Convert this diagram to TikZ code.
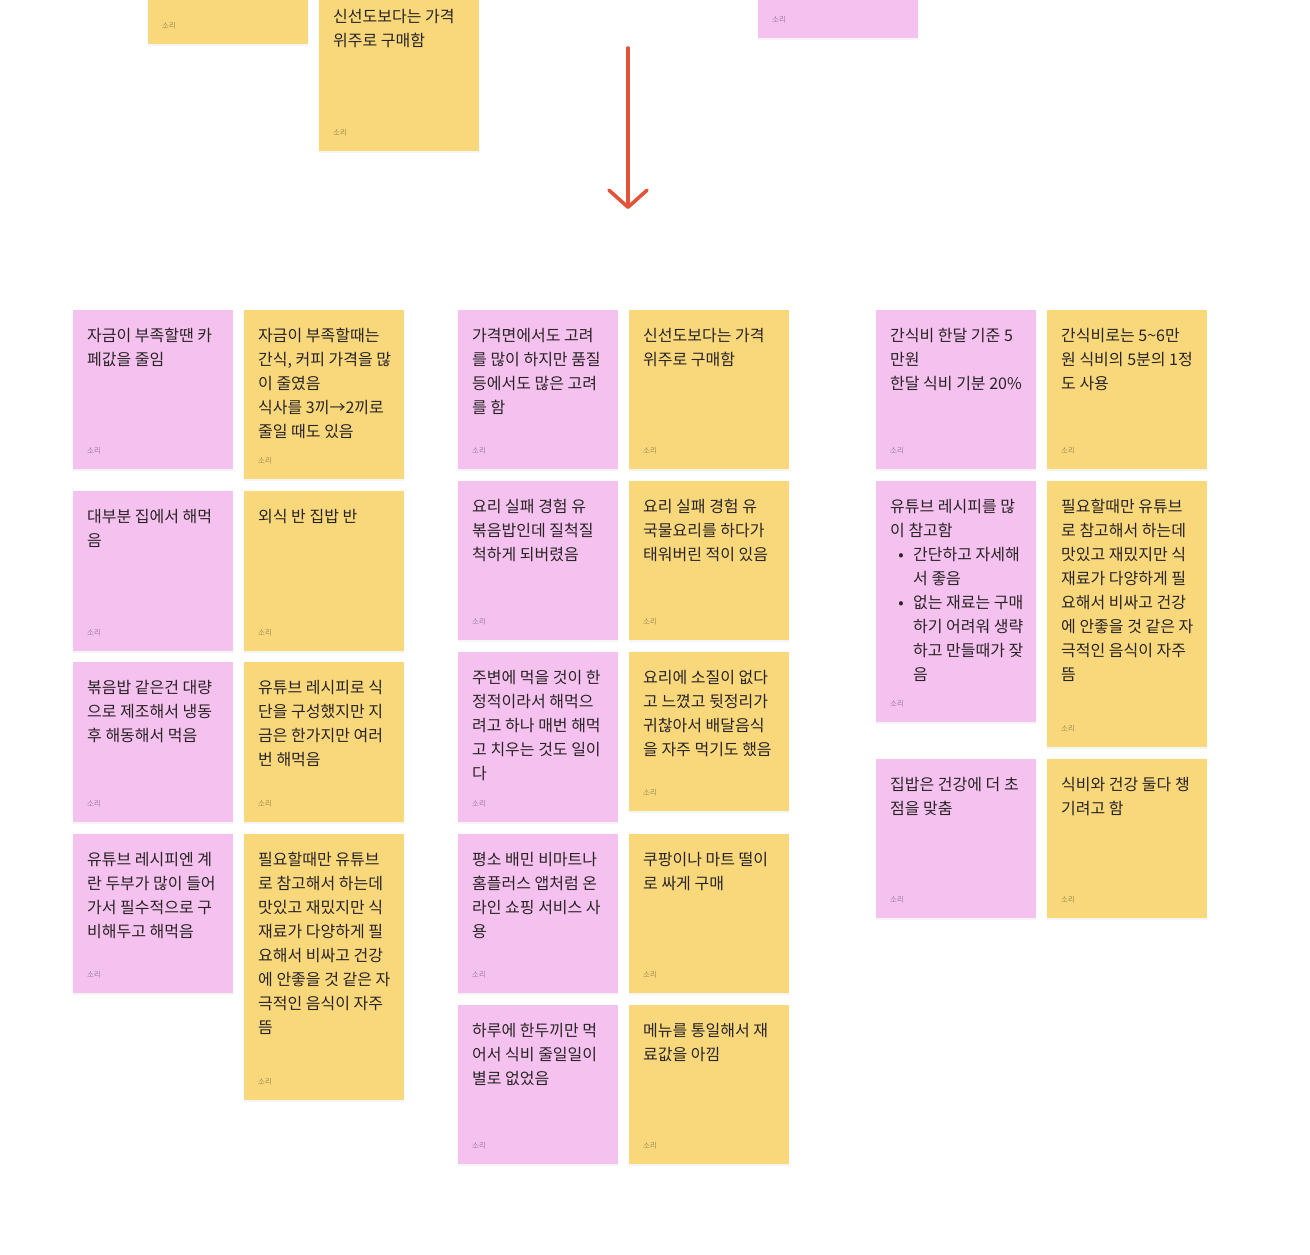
\documentclass[tikz,border=0pt]{standalone}
\usepackage{fontspec}
\setmainfont{Noto Sans CJK KR}
\newfontfamily\notefont{Noto Sans CJK KR}
\usetikzlibrary{positioning,calc,shadows,arrows.meta}

\definecolor{notepink}{RGB}{245,193,238}
\definecolor{noteyellow}{RGB}{249,216,123}
\definecolor{notetext}{RGB}{40,36,38}
\definecolor{arrowred}{RGB}{226,84,56}

\tikzset{
  card/.style={rectangle, fill=#1, anchor=north west, minimum width=160pt, inner sep=0pt,
    drop shadow={shadow xshift=0pt, shadow yshift=-2pt, opacity=0.08}},
  cardtext/.style={anchor=north west, inner sep=0pt, align=left, text=notetext,
    font=\notefont\fontsize{16}{24}\selectfont},
  sori/.style={anchor=west, inner sep=0pt, text=black, opacity=0.35,
    font=\notefont\fontsize{7.5}{8}\selectfont}
}

% name, colour, x, y, height, text
\newcommand{\sticky}[6]{%
  \node[card=#2, minimum height=#5pt] (#1) at (#3,#4) {};
  \node[cardtext] (#1-txt) at ($(#1.north west)+(14pt,-18pt)$) {#6};
  \node[sori] (#1-sori) at ($(#1.south west)+(14pt,19pt)$) {소리};
}
\newcommand{\bul}{\makebox[23pt][l]{\hspace*{7pt}\makebox[8pt]{•}}}

\begin{document}
\begin{tikzpicture}[x=1pt,y=-1pt]
  \clip (0,0) rectangle (1310,1254);
  \useasboundingbox (0,0) rectangle (1310,1254);

  % cards above the arrow
  \sticky{t1}{noteyellow}{148}{-116}{160}{}
  \sticky{t2}{noteyellow}{319}{-9}{160}{신선도보다는 가격\\위주로 구매함}
  \sticky{t3}{notepink}{758}{-122}{160}{}

  \coordinate (arr-s) at (628,48);
  \coordinate (arr-e) at (628,209);
  \draw[arrowred, line width=3.6pt, line cap=round,
        -{Straight Barb[length=17pt,width=38pt,round]}] (arr-s) -- (arr-e);

  % first group
  \sticky{a1}{notepink}{73}{310}{159}{자금이 부족할땐 카\\페값을 줄임}
  \sticky{b1}{noteyellow}{244}{310}{169}{자금이 부족할때는\\간식, 커피 가격을 많\\이 줄였음\\식사를 3끼→2끼로\\줄일 때도 있음}
  \sticky{a2}{notepink}{73}{491}{160}{대부분 집에서 해먹\\음}
  \sticky{b2}{noteyellow}{244}{491}{160}{외식 반 집밥 반}
  \sticky{a3}{notepink}{73}{662}{160}{볶음밥 같은건 대량\\으로 제조해서 냉동\\후 해동해서 먹음}
  \sticky{b3}{noteyellow}{244}{662}{160}{유튜브 레시피로 식\\단을 구성했지만 지\\금은 한가지만 여러\\번 해먹음}
  \sticky{a4}{notepink}{73}{834}{159}{유튜브 레시피엔 계\\란 두부가 많이 들어\\가서 필수적으로 구\\비해두고 해먹음}
  \sticky{b4}{noteyellow}{244}{834}{266}{필요할때만 유튜브\\로 참고해서 하는데\\맛있고 재밌지만 식\\재료가 다양하게 필\\요해서 비싸고 건강\\에 안좋을 것 같은 자\\극적인 음식이 자주\\뜸}

  % second group
  \sticky{c1}{notepink}{458}{310}{159}{가격면에서도 고려\\를 많이 하지만 품질\\등에서도 많은 고려\\를 함}
  \sticky{d1}{noteyellow}{629}{310}{159}{신선도보다는 가격\\위주로 구매함}
  \sticky{c2}{notepink}{458}{481}{159}{요리 실패 경험 유\\볶음밥인데 질척질\\척하게 되버렸음}
  \sticky{d2}{noteyellow}{629}{481}{159}{요리 실패 경험 유\\국물요리를 하다가\\태워버린 적이 있음}
  \sticky{c3}{notepink}{458}{652}{170}{주변에 먹을 것이 한\\정적이라서 해먹으\\려고 하나 매번 해먹\\고 치우는 것도 일이\\다}
  \sticky{d3}{noteyellow}{629}{652}{159}{요리에 소질이 없다\\고 느꼈고 뒷정리가\\귀찮아서 배달음식\\을 자주 먹기도 했음}
  \sticky{c4}{notepink}{458}{834}{159}{평소 배민 비마트나\\홈플러스 앱처럼 온\\라인 쇼핑 서비스 사\\용}
  \sticky{d4}{noteyellow}{629}{834}{159}{쿠팡이나 마트 떨이\\로 싸게 구매}
  \sticky{c5}{notepink}{458}{1005}{159}{하루에 한두끼만 먹\\어서 식비 줄일일이\\별로 없었음}
  \sticky{d5}{noteyellow}{629}{1005}{159}{메뉴를 통일해서 재\\료값을 아낌}

  % third group
  \sticky{e1}{notepink}{876}{310}{159}{간식비 한달 기준 5\\만원\\한달 식비 기분 20\%}
  \sticky{f1}{noteyellow}{1047}{310}{159}{간식비로는 5\textasciitilde6만\\원 식비의 5분의 1정\\도 사용}
  \sticky{e2}{notepink}{876}{481}{241}{유튜브 레시피를 많\\이 참고함\\\bul 간단하고 자세해\\\hspace*{23pt}서 좋음\\\bul 없는 재료는 구매\\\hspace*{23pt}하기 어려워 생략\\\hspace*{23pt}하고 만들때가 잦\\\hspace*{23pt}음}
  \sticky{f2}{noteyellow}{1047}{481}{266}{필요할때만 유튜브\\로 참고해서 하는데\\맛있고 재밌지만 식\\재료가 다양하게 필\\요해서 비싸고 건강\\에 안좋을 것 같은 자\\극적인 음식이 자주\\뜸}
  \sticky{e3}{notepink}{876}{759}{159}{집밥은 건강에 더 초\\점을 맞춤}
  \sticky{f3}{noteyellow}{1047}{759}{159}{식비와 건강 둘다 챙\\기려고 함}
\end{tikzpicture}
\end{document}
